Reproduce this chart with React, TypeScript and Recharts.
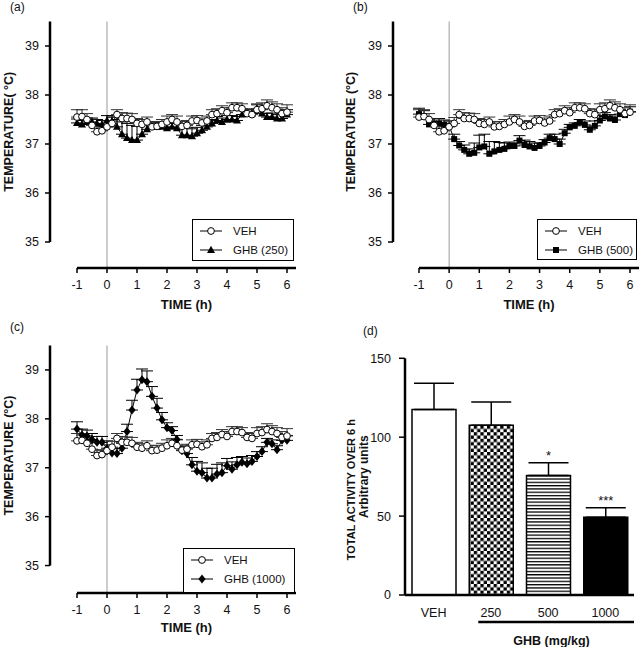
import React from "react";
import {
  Bar,
  Cell,
  ComposedChart,
  ErrorBar,
  LabelList,
  Legend,
  Line,
  ReferenceLine,
  XAxis,
  YAxis,
} from "recharts";

const FONT = '"Liberation Sans", Arial, Helvetica, sans-serif';

// time after injection, hours (10 min bins)
const TIME_H = [
  -1, -0.833, -0.667, -0.5, -0.333, -0.167, 0, 0.167, 0.333, 0.5, 0.667, 0.833, 1, 1.167, 1.333, 1.5,
  1.667, 1.833, 2, 2.167, 2.333, 2.5, 2.667, 2.833, 3, 3.167, 3.333, 3.5, 3.667, 3.833, 4, 4.167, 4.333,
  4.5, 4.667, 4.833, 5, 5.167, 5.333, 5.5, 5.667, 5.833, 6,
];
const X_TICKS = [-1, 0, 1, 2, 3, 4, 5, 6];
const Y_TICKS = [35, 36, 37, 38, 39];

const VEH_MEAN = [
  37.55, 37.56, 37.5, 37.38, 37.25, 37.27, 37.35, 37.42, 37.6, 37.52, 37.52, 37.5, 37.42, 37.4, 37.45,
  37.35, 37.36, 37.4, 37.45, 37.5, 37.45, 37.36, 37.38, 37.47, 37.48, 37.43, 37.47, 37.6, 37.62, 37.68,
  37.64, 37.74, 37.74, 37.72, 37.62, 37.6, 37.7, 37.72, 37.78, 37.74, 37.7, 37.62, 37.65,
];
const VEH_SEM = [
  0.15, 0.14, 0.12, 0.13, 0.1, 0.1, 0.12, 0.12, 0.1, 0.12, 0.11, 0.12, 0.1, 0.1, 0.1, 0.1, 0.1, 0.1, 0.12,
  0.1, 0.12, 0.1, 0.1, 0.1, 0.1, 0.1, 0.1, 0.1, 0.1, 0.1, 0.1, 0.1, 0.1, 0.1, 0.1, 0.1, 0.12, 0.12, 0.12,
  0.12, 0.12, 0.12, 0.15,
];

const GHB250_MEAN = [
  37.43, 37.4, 37.45, 37.45, 37.42, 37.4, 37.48, 37.47, 37.35, 37.2, 37.12, 37.08, 37.08, 37.2, 37.3,
  37.35, 37.35, 37.35, 37.32, 37.35, 37.32, 37.18, 37.18, 37.16, 37.22, 37.28, 37.35, 37.42, 37.48,
  37.45, 37.5, 37.5, 37.48, 37.6, 37.62, 37.62, 37.72, 37.62, 37.55, 37.55, 37.52, 37.52, 37.6,
];
const GHB250_SEM = [
  0.08, 0.08, 0.08, 0.08, 0.08, 0.08, 0.1, 0.1, 0.15, 0.25, 0.3, 0.3, 0.28, 0.18, 0.1, 0.08, 0.08, 0.08,
  0.1, 0.1, 0.1, 0.15, 0.15, 0.15, 0.12, 0.1, 0.08, 0.08, 0.08, 0.08, 0.08, 0.08, 0.08, 0.08, 0.08, 0.08,
  0.08, 0.08, 0.08, 0.08, 0.08, 0.1, 0.1,
];

const GHB500_MEAN = [
  37.61, 37.56, 37.4, 37.42, 37.42, 37.39, 37.37, 37.1, 36.97, 36.88, 36.8, 36.82, 36.93, 36.95, 36.8,
  36.85, 36.88, 36.9, 36.96, 36.96, 37.07, 36.98, 36.95, 36.92, 36.96, 37.03, 37.12, 37.1, 37.0, 37.22,
  37.34, 37.37, 37.44, 37.39, 37.29, 37.37, 37.48, 37.56, 37.52, 37.49, 37.61, 37.59, 37.66,
];
const GHB500_SEM = [
  0.12, 0.12, 0.12, 0.1, 0.1, 0.1, 0.1, 0.1, 0.08, 0.1, 0.1, 0.2, 0.25, 0.25, 0.25, 0.2, 0.15, 0.12, 0.08,
  0.06, 0.1, 0.1, 0.1, 0.1, 0.06, 0.06, 0.08, 0.1, 0.1, 0.08, 0.06, 0.06, 0.06, 0.08, 0.06, 0.1, 0.1, 0.08,
  0.08, 0.08, 0.08, 0.08, 0.1,
];

const GHB1000_MEAN = [
  37.79, 37.67, 37.65, 37.58, 37.52, 37.52, 37.4, 37.3, 37.29, 37.4, 37.74, 38.18, 38.59, 38.8, 38.76,
  38.46, 38.22, 37.98, 37.82, 37.76, 37.58, 37.35, 37.29, 37.06, 36.93, 36.9, 36.79, 36.79, 36.87, 36.9,
  37.04, 36.97, 37.06, 37.11, 37.08, 37.13, 37.23, 37.33, 37.52, 37.49, 37.37, 37.56, 37.56,
];
const GHB1000_SEM = [
  0.15, 0.12, 0.12, 0.12, 0.12, 0.12, 0.15, 0.1, 0.1, 0.1, 0.15, 0.2, 0.22, 0.22, 0.22, 0.2, 0.2, 0.15,
  0.1, 0.08, 0.08, 0.08, 0.12, 0.15, 0.2, 0.2, 0.2, 0.2, 0.2, 0.2, 0.15, 0.15, 0.15, 0.12, 0.12, 0.12, 0.1,
  0.1, 0.08, 0.08, 0.08, 0.1, 0.1,
];

// panel (d)
const GROUPS = ["VEH", "250", "500", "1000"];
const ACTIVITY = [117.5, 107.5, 75.8, 49.3];
const ACTIVITY_SEM = [16.7, 14.8, 8.0, 6.0];
const SIG = ["", "", "*", "***"];
const ACT_TICKS = [0, 50, 100, 150];

const Y_TOP = 39.5;
const X_END = 6.3;

type Pt = { cx?: number; cy?: number; index?: number };

const OpenCircle = ({ cx = 0, cy = 0, index }: Pt) => (
  <circle key={`c${index}`} cx={cx} cy={cy} r={3.4} fill="#fff" stroke="#000" strokeWidth={1} />
);
const Triangle = ({ cx = 0, cy = 0, index }: Pt) => (
  <path key={`t${index}`} d={`M${cx},${cy - 4.2}L${cx + 4},${cy + 3}L${cx - 4},${cy + 3}Z`} fill="#000" />
);
const Square = ({ cx = 0, cy = 0, index }: Pt) => (
  <rect key={`s${index}`} x={cx - 3} y={cy - 3} width={6} height={6} fill="#000" />
);
const Diamond = ({ cx = 0, cy = 0, index }: Pt) => (
  <path key={`d${index}`} d={`M${cx},${cy - 4.5}L${cx + 3.6},${cy}L${cx},${cy + 4.5}L${cx - 3.6},${cy}Z`} fill="#000" />
);

function LegendBox({ items }: { items: { label: string; marker: (p: Pt) => React.ReactElement }[] }) {
  return (
    <div
      style={{
        border: "1px solid #000",
        background: "#fff",
        boxSizing: "border-box",
        width: "100%",
        height: "100%",
        paddingTop: 1,
        paddingLeft: 7,
        fontFamily: FONT,
        fontSize: 11.5,
        color: "#111",
      }}
    >
      {items.map((it) => (
        <div key={it.label} style={{ display: "flex", alignItems: "center", height: 19 }}>
          <svg width={22} height={10} style={{ marginRight: 11 }}>
            <line x1={0} y1={5} x2={22} y2={5} stroke="#000" strokeWidth={1} />
            {it.marker({ cx: 11, cy: 5, index: 0 })}
          </svg>
          <span>{it.label}</span>
        </div>
      ))}
    </div>
  );
}

type PanelProps = {
  tag: string;
  left: number;
  top: number;
  width: number;
  height: number;
  axisX: number;
  xm1: number;
  x6: number;
  yTopPx: number;
  xAxisY: number;
  ppd: number;
  yLabel: string;
  yLabelX: number;
  xLabelDy: number;
  ghbLabel: string;
  mean: number[];
  sem: number[];
  marker: (p: Pt) => React.ReactElement;
  legend: { x: number; y: number; w: number; h: number };
};

function LinePanel(p: PanelProps) {
  const pph = (p.x6 - p.xm1) / 7;
  const xMin = -1 - (p.xm1 - p.axisX) / pph;
  const plotRight = p.x6 + (X_END - 6) * pph;
  const yMin = Y_TOP - (p.xAxisY - p.yTopPx) / p.ppd;
  const yAxisMid = p.yTopPx + ((Y_TOP - 35) * p.ppd) / 2;
  const rows = TIME_H.map((t, i) => ({
    t,
    veh: VEH_MEAN[i],
    vehErr: [0, VEH_SEM[i]],
    ghb: p.mean[i],
    ghbErr: [0, p.sem[i]],
  }));
  const tickStyle = { fill: "#111", fontSize: 12.5 };
  return (
    <div style={{ position: "absolute", left: p.left, top: p.top }}>
      <ComposedChart
        width={p.width}
        height={p.height}
        data={rows}
        margin={{ top: p.yTopPx, right: p.width - plotRight, bottom: 0, left: 0 }}
      >
        <XAxis
          type="number"
          dataKey="t"
          domain={[xMin, X_END]}
          allowDataOverflow
          ticks={X_TICKS}
          interval={0}
          axisLine={false}
          tickLine={{ stroke: "#000", strokeWidth: 1.5 }}
          tickSize={5}
          tickMargin={7}
          height={p.height - p.xAxisY}
          tick={tickStyle}
          label={{
            content: () => (
              <text
                x={(p.xm1 + plotRight) / 2}
                y={p.xAxisY + p.xLabelDy}
                textAnchor="middle"
                fontWeight="bold"
                fontSize={13}
                fill="#111"
              >
                TIME (h)
              </text>
            ),
          }}
        />
        <YAxis
          type="number"
          domain={[yMin, Y_TOP]}
          allowDataOverflow
          ticks={Y_TICKS}
          interval={0}
          width={p.axisX}
          axisLine={false}
          tickLine={{ stroke: "#000", strokeWidth: 1.5 }}
          tickSize={5}
          tickMargin={6}
          tick={tickStyle}
          label={{
            content: () => (
              <text
                x={p.yLabelX}
                y={yAxisMid}
                transform={`rotate(-90 ${p.yLabelX} ${yAxisMid})`}
                textAnchor="middle"
                fontWeight="bold"
                fontSize={12.5}
                fill="#111"
              >
                {p.yLabel}
              </text>
            ),
          }}
        />
        <ReferenceLine x={0} stroke="#9a9a9a" strokeWidth={1} />
        <ReferenceLine segment={[{ x: xMin, y: 35 }, { x: xMin, y: Y_TOP }]} stroke="#000" strokeWidth={2.5} />
        <ReferenceLine segment={[{ x: -1, y: yMin }, { x: X_END, y: yMin }]} stroke="#000" strokeWidth={2.5} />
        <Line
          dataKey="ghb"
          type="linear"
          stroke="#000"
          strokeWidth={1}
          isAnimationActive={false}
          dot={(d: Pt) => p.marker(d)}
        >
          <ErrorBar dataKey="ghbErr" direction="y" width={6} stroke="#000" strokeWidth={1} />
        </Line>
        <Line
          dataKey="veh"
          type="linear"
          stroke="#000"
          strokeWidth={1}
          isAnimationActive={false}
          dot={(d: Pt) => OpenCircle(d)}
        >
          <ErrorBar dataKey="vehErr" direction="y" width={6} stroke="#333" strokeWidth={1} />
        </Line>
        <Legend
          layout="vertical"
          align="center"
          verticalAlign="middle"
          wrapperStyle={{ left: p.legend.x, top: p.legend.y, width: p.legend.w, height: p.legend.h }}
          content={() => (
            <LegendBox
              items={[
                { label: "VEH", marker: OpenCircle },
                { label: p.ghbLabel, marker: p.marker },
              ]}
            />
          )}
        />
      </ComposedChart>
      <div
        style={{ position: "absolute", left: p.tag === "(b)" ? 31 : 10, top: 0, fontSize: 12, fontFamily: FONT, color: "#111" }}
      >
        {p.tag}
      </div>
    </div>
  );
}

const BAR_FILLS = ["#fff", "url(#chk)", "url(#hst)", "#000"];

function StarLabel(props: any) {
  const i = props.index;
  if (i == null || !SIG[i]) return null;
  const vb = props.viewBox ?? props;
  const x = vb.x ?? props.x;
  const y = vb.y ?? props.y;
  const w = vb.width ?? props.width;
  const h = vb.height ?? props.height;
  const k = h / ACTIVITY[i];
  const yTop = y - ACTIVITY_SEM[i] * k;
  return (
    <text x={x + w / 2} y={yTop - 3} textAnchor="middle" fontSize={13} fill="#111">
      {SIG[i]}
    </text>
  );
}

function ActivityPanel() {
  const rows = GROUPS.map((g, i) => ({ g, mean: ACTIVITY[i], err: [0, ACTIVITY_SEM[i]], sig: SIG[i] }));
  const plotTop = 38.3;
  const plotBottom = 275;
  const plotLeft = 83;
  const plotRight = 312;
  const yMid = (plotTop + plotBottom) / 2;
  return (
    <div style={{ position: "absolute", left: 322, top: 320 }}>
      <ComposedChart
        width={322}
        height={327}
        data={rows}
        margin={{ top: plotTop, right: 322 - plotRight, bottom: 0, left: 0 }}
      >
        <defs>
          <pattern id="chk" width={6.6} height={6.6} patternUnits="userSpaceOnUse">
            <rect width={6.6} height={6.6} fill="#fff" />
            <rect width={3.3} height={3.3} fill="#000" />
            <rect x={3.3} y={3.3} width={3.3} height={3.3} fill="#000" />
          </pattern>
          <pattern id="hst" width={6} height={3.3} patternUnits="userSpaceOnUse">
            <rect width={6} height={3.3} fill="#fff" />
            <rect width={6} height={1.3} fill="#000" />
          </pattern>
        </defs>
        <XAxis
          dataKey="g"
          type="category"
          axisLine={{ stroke: "#000", strokeWidth: 2.5 }}
          tickLine={false}
          tickSize={0}
          tickMargin={13}
          height={327 - plotBottom}
          interval={0}
          tick={{ fill: "#111", fontSize: 12.5 }}
          label={{
            content: () => (
              <g>
                <line
                  x1={plotLeft + (plotRight - plotLeft) * 0.32}
                  y1={plotBottom + 27}
                  x2={plotRight}
                  y2={plotBottom + 27}
                  stroke="#000"
                  strokeWidth={2.5}
                />
                <text
                  x={plotLeft + (plotRight - plotLeft) * 0.64}
                  y={plotBottom + 50}
                  textAnchor="middle"
                  fontWeight="bold"
                  fontSize={12.5}
                  fill="#111"
                >
                  GHB (mg/kg)
                </text>
              </g>
            ),
          }}
        />
        <YAxis
          type="number"
          domain={[0, 150]}
          ticks={ACT_TICKS}
          interval={0}
          width={plotLeft}
          axisLine={{ stroke: "#000", strokeWidth: 2.5 }}
          tickLine={{ stroke: "#000", strokeWidth: 1.5 }}
          tickSize={6}
          tickMargin={8}
          tick={{ fill: "#111", fontSize: 12.5 }}
          label={{
            content: () => (
              <g>
                <text
                  x={33}
                  y={yMid + 13}
                  transform={`rotate(-90 33 ${yMid + 13})`}
                  textAnchor="middle"
                  fontWeight="bold"
                  fontSize={11}
                  fill="#111"
                >
                  TOTAL ACTIVITY OVER 6 h
                </text>
                <text
                  x={46}
                  y={yMid}
                  transform={`rotate(-90 46 ${yMid})`}
                  textAnchor="middle"
                  fontWeight="bold"
                  fontSize={12}
                  fill="#111"
                >
                  Arbitrary units
                </text>
              </g>
            ),
          }}
        />
        <Bar dataKey="mean" barSize={44} stroke="#000" strokeWidth={1.5} isAnimationActive={false}>
          {rows.map((r, i) => (
            <Cell key={r.g} fill={BAR_FILLS[i]} />
          ))}
          <ErrorBar dataKey="err" direction="y" width={20} stroke="#000" strokeWidth={1.5} />
          <LabelList dataKey="sig" content={StarLabel} />
        </Bar>
      </ComposedChart>
      <div style={{ position: "absolute", left: 41, top: 4, fontSize: 12, fontFamily: FONT, color: "#111" }}>(d)</div>
    </div>
  );
}

export default function App() {
  return (
    <div
      style={{
        position: "absolute",
        left: 0,
        top: 0,
        width: 644,
        height: 647,
        background: "#fff",
        fontFamily: FONT,
      }}
    >
      <LinePanel
        tag="(a)"
        left={0}
        top={0}
        width={322}
        height={320}
        axisX={50}
        xm1={77}
        x6={287}
        yTopPx={21.5}
        xAxisY={268}
        ppd={49}
        yLabel="TEMPERATURE( °C)"
        yLabelX={13}
        xLabelDy={41}
        ghbLabel="GHB (250)"
        mean={GHB250_MEAN}
        sem={GHB250_SEM}
        marker={Triangle}
        legend={{ x: 192, y: 219, w: 102, h: 42 }}
      />
      <LinePanel
        tag="(b)"
        left={322}
        top={0}
        width={322}
        height={320}
        axisX={71}
        xm1={97}
        x6={308}
        yTopPx={21.5}
        xAxisY={268}
        ppd={49}
        yLabel="TEMPERATURE (°C)"
        yLabelX={33}
        xLabelDy={41}
        ghbLabel="GHB (500)"
        mean={GHB500_MEAN}
        sem={GHB500_SEM}
        marker={Square}
        legend={{ x: 215, y: 219, w: 100, h: 41 }}
      />
      <LinePanel
        tag="(c)"
        left={0}
        top={320}
        width={322}
        height={327}
        axisX={50}
        xm1={77}
        x6={287}
        yTopPx={25.5}
        xAxisY={273}
        ppd={48.9}
        yLabel="TEMPERATURE (°C)"
        yLabelX={13}
        xLabelDy={39}
        ghbLabel="GHB (1000)"
        mean={GHB1000_MEAN}
        sem={GHB1000_SEM}
        marker={Diamond}
        legend={{ x: 183, y: 228, w: 112, h: 45 }}
      />
      <ActivityPanel />
    </div>
  );
}
